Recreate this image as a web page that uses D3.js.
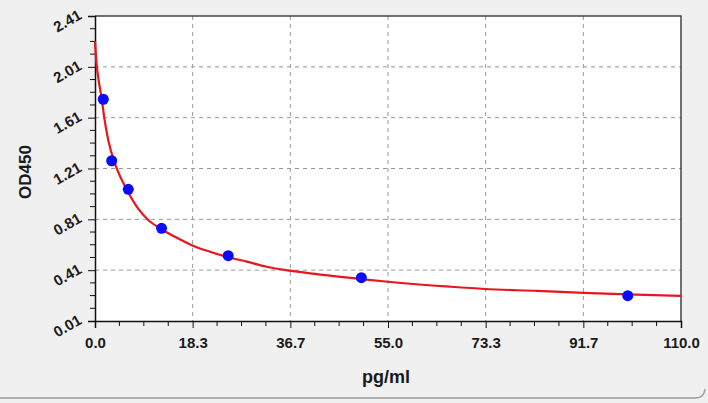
<!DOCTYPE html>
<html>
<head>
<meta charset="utf-8">
<script src="https://cdn.jsdelivr.net/npm/d3@7"></script>
<style>
  body { margin: 0; background: #f0f0f0; }
  svg text { font-family: "Liberation Sans", Arial, sans-serif; fill: #1a1a1a; }
</style>
</head>
<body>
<div class="chart"></div>
<script>
// standard points
const conc = [1.56, 3.13, 6.25, 12.5, 25, 50, 100];
const od = [1.755, 1.271, 1.046, 0.739, 0.524, 0.351, 0.209];

// fitted curve
const curveX = [0, 0.3, 0.7, 1.3, 1.7, 2.5, 4, 6, 8, 10, 12.5, 15, 18.5, 21.6, 24.7, 28.5, 32.2, 36.6, 40.4, 50, 55, 66.6, 73.2, 83, 91.7, 100, 110];
const curveY = [2.21, 2.03, 1.90, 1.75, 1.62, 1.43, 1.22, 1.04, 0.90, 0.805, 0.732, 0.673, 0.60, 0.555, 0.516, 0.477, 0.437, 0.406, 0.385, 0.34, 0.319, 0.28, 0.262, 0.247, 0.232, 0.219, 0.207];

const xTicks = [0, 18.33, 36.67, 55, 73.33, 91.67, 110];
const xTickLabels = ["0.0", "18.3", "36.7", "55.0", "73.3", "91.7", "110.0"];
const yTicks = [0.01, 0.41, 0.81, 1.21, 1.61, 2.01, 2.41];
const yTickLabels = ["0.01", "0.41", "0.81", "1.21", "1.61", "2.01", "2.41"];

function Charting(){
    const W = 708, H = 403;
    const margin = ({top: 16, right: 27, bottom: 82, left: 95});
    const width = W - margin.left - margin.right,
    height = H - margin.top - margin.bottom;

    const root = d3.select(".chart").append("svg")
    .attr("width", W)
    .attr("height", H);

    // panel background + frame edge
    root.append("rect").attr("width", W).attr("height", H).attr("fill", "#f0f0f0");
    root.append("path")
    .attr("d", `M0,${H-5} L${W-12},${H-5} Q${W-4},${H-5} ${W-3},${H-14}`)
    .attr("fill", "none").attr("stroke", "#9a9a9a").attr("stroke-width", 1.5);

    const svg = root.append("g")
    .attr("transform", "translate(" + margin.left + "," + margin.top + ")");

    const xScale = d3.scaleLinear().domain([0, 110]).range([0, width]);
    const yScale = d3.scaleLinear().domain([0.01, 2.41]).range([height, 0]);

    svg.append("rect")
    .attr("width", width).attr("height", height)
    .attr("fill", "white");

    // grid
    svg.selectAll(".vgrid")
    .data(xTicks.slice(1, -1))
    .enter().append("line")
    .attr("x1", d => xScale(d)).attr("x2", d => xScale(d))
    .attr("y1", 0).attr("y2", height)
    .attr("stroke", "#999").attr("stroke-dasharray", "4,4");

    svg.selectAll(".hgrid")
    .data(yTicks.slice(1, -1))
    .enter().append("line")
    .attr("x1", 0).attr("x2", width)
    .attr("y1", d => yScale(d)).attr("y2", d => yScale(d))
    .attr("stroke", "#999").attr("stroke-dasharray", "4,4");

    // frame top/right
    svg.append("path")
    .attr("d", `M0,0 H${width} V${height}`)
    .attr("fill", "none").attr("stroke", "#444").attr("stroke-width", 1.5);

    // minor ticks
    const xMinor = d3.range(0, 24).map(i => i * 110 / 24).filter((d, i) => i % 4 !== 0);
    const yMinor = d3.range(0, 24).map(i => 0.01 + i * 0.1).filter((d, i) => i % 4 !== 0);

    const xAxis = d3.axisBottom(xScale)
    .tickValues(xTicks)
    .tickFormat((d, i) => xTickLabels[i])
    .tickSizeOuter(0)
    .tickSize(7)
    .tickPadding(9);

    const yAxis = d3.axisLeft(yScale)
    .tickValues(yTicks)
    .tickFormat((d, i) => yTickLabels[i])
    .tickSizeOuter(0)
    .tickSize(7);

    const gx = svg.append("g")
    .attr("class", "axis x-axis")
    .attr("transform", `translate(0, ${height})`)
    .call(xAxis);
    gx.selectAll(".tick text")
    .style("font-size", "15px").style("font-weight", "bold").attr("fill", "#1a1a1a");

    gx.selectAll(".minor")
    .data(xMinor).enter().append("line")
    .attr("x1", d => xScale(d)).attr("x2", d => xScale(d))
    .attr("y1", 0).attr("y2", 5).attr("stroke", "#111");

    const gy = svg.append("g")
    .attr("class", "axis y-axis")
    .call(yAxis);
    gy.selectAll(".tick text")
    .attr("x", -15).attr("y", -3).attr("dy", "0.35em")
    .attr("transform", "rotate(-30, -15, -3)")
    .style("font-size", "15px").style("font-weight", "bold").attr("fill", "#1a1a1a");

    gy.selectAll(".minor")
    .data(yMinor).enter().append("line")
    .attr("x1", 0).attr("x2", -5)
    .attr("y1", d => yScale(d)).attr("y2", d => yScale(d))
    .attr("stroke", "#111");

    svg.selectAll(".domain").attr("stroke", "#111").attr("stroke-width", 1.5);
    svg.selectAll(".tick line").attr("stroke", "#111");

    // fitted curve
    const line = d3.line()
    .x((d, i) => xScale(curveX[i]))
    .y(d => yScale(d))
    .curve(d3.curveMonotoneX);

    svg.append("path")
    .datum(curveY)
    .attr("d", line)
    .attr("fill", "none")
    .attr("stroke", "#e8161c")
    .attr("stroke-width", 2.2);

    svg.selectAll("circle")
    .data(conc)
    .enter()
    .append("circle")
    .attr("cx", d => xScale(d))
    .attr("cy", (d, i) => yScale(od[i]))
    .attr("r", 5.5)
    .attr("fill", "#0a0aff");

    // axis titles
    root.append("text")
    .attr("x", 386)
    .attr("y", 383)
    .attr("text-anchor", "middle")
    .style("font-size", "18px").style("font-weight", "bold")
    .text("pg/ml");

    root.append("text")
    .attr("transform", "translate(31, 172) rotate(-90)")
    .attr("text-anchor", "middle")
    .style("font-size", "17px").style("font-weight", "bold")
    .text("OD450");
}

async function main(){
    Charting()
}

main()
</script>
</body>
</html>
